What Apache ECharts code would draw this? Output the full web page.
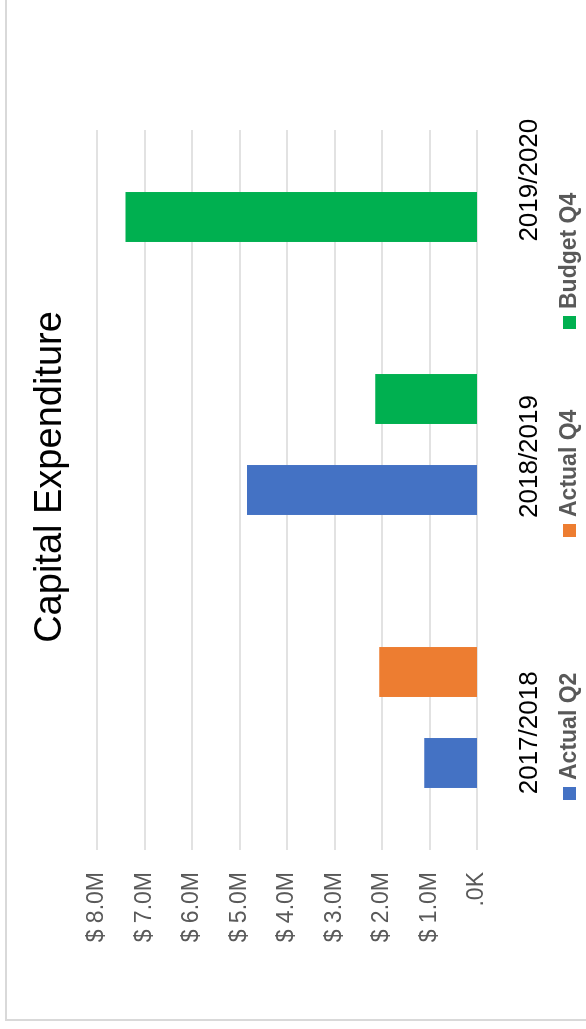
<!DOCTYPE html>
<html>
<head>
<meta charset="utf-8">
<script src="https://cdn.jsdelivr.net/npm/echarts@6/dist/echarts.min.js"></script>
<style>
  html, body { margin: 0; padding: 0; background: #fff; overflow: hidden; }
  #wrap { position: absolute; left: 0; top: 0; width: 586px; height: 1029px; overflow: hidden; }
  /* chart is drawn landscape, then turned a quarter to the left */
  #chart { position: absolute; left: 0; top: 0; width: 1029px; height: 586px;
           transform-origin: 0 0; transform: translate(0, 1029px) rotate(-90deg); }
</style>
</head>
<body>
<div id="wrap"><div id="chart"></div></div>
<script>
const FONT = 'Liberation Sans, Arial, sans-serif';

// data (dollars)
const categories = ['2017/2018', '2018/2019', '2019/2020'];
const seriesNames = ['Actual Q2', 'Actual Q4', 'Budget Q4'];
const actualQ2 = [1110000, 4840000, null];
const actualQ4 = [2060000, null, null];
const budgetQ4 = [null, 2140000, 7400000];
const valueTicks = [0, 1000000, 2000000, 3000000, 4000000, 5000000, 6000000, 7000000, 8000000];

const allValues = [actualQ2, actualQ4, budgetQ4];
const colors = ['#4472C4', '#ED7D31', '#00B050'];
const legendLeft = [229, 492, 700];

const BAR_RATIO = 0.183;   // bar width / band
const STEP_RATIO = 0.3333; // distance between bars in one category / band

// slots per category = most non-empty values any category has
const slotCount = Math.max(...categories.map((c, i) => allValues.filter(s => s[i] != null).length));

function moneyLabel(v) {
    if (v === 0) return '.0K';
    return '$ ' + (v / 1000000).toFixed(1) + 'M';
}

// bars of a category are packed from the left of its band; empty series leave no hole
function barSeries(k) {
    const values = allValues[k];
    return {
        type: 'custom',
        name: seriesNames[k],
        xAxisIndex: 1,
        yAxisIndex: 1,
        itemStyle: { color: colors[k] },
        encode: { x: 0, y: 1 },
        data: values.map((v, i) => [i, v]).filter(d => d[1] != null),
        renderItem(params, api) {
            const i = api.value(0);
            const rank = allValues.filter(s => s[i] != null).indexOf(values);
            const band = api.size([1, 0])[0];
            const base = api.coord([i, 0]);
            const top = api.coord([i, api.value(1)]);
            const w = band * BAR_RATIO;
            const cx = base[0] + (rank - (slotCount - 1) / 2) * band * STEP_RATIO;
            return {
                type: 'rect',
                shape: { x: cx - w / 2, y: top[1], width: w, height: base[1] - top[1] },
                style: { fill: api.visual('color') }
            };
        }
    };
}

const chart = echarts.init(document.getElementById('chart'), null, { renderer: 'canvas' });

const valueAxisBase = { type: 'value', min: valueTicks[0], max: valueTicks[valueTicks.length - 1], interval: valueTicks[1] - valueTicks[0] };

chart.setOption({
    animation: false,
    backgroundColor: '#fff',
    title: {
        text: 'Capital Expenditure',
        left: 547,
        textAlign: 'center',
        top: 27,
        textStyle: { fontFamily: FONT, fontSize: 38, fontWeight: 'normal', color: '#000' }
    },
    graphic: [{
        type: 'rect', x: 9, y: 6, silent: true,
        shape: { width: 1100, height: 700 },
        style: { fill: null, stroke: '#d9d9d9', lineWidth: 2 }
    }],
    legend: seriesNames.map((name, k) => ({
        data: [name],
        left: legendLeft[k],
        top: 558,
        padding: 0,
        itemWidth: 13,
        itemHeight: 13,
        icon: 'rect',
        textStyle: { fontFamily: FONT, fontSize: 23, fontWeight: 'bold', color: '#595959', padding: [0, 0, 0, 2] }
    })),
    grid: [
        { left: 179, top: 97, width: 720, height: 380 },  // gridlines
        { left: 175, top: 97, width: 819, height: 380 },  // bars
        { left: 158, top: 97, width: 829, height: 380 }   // category labels
    ],
    xAxis: [
        { gridIndex: 0, type: 'category', data: categories, axisLine: { show: false }, axisTick: { show: false }, axisLabel: { show: false } },
        { gridIndex: 1, type: 'category', data: categories, show: false },
        { gridIndex: 2, type: 'category', data: categories, axisLine: { show: false }, axisTick: { show: false },
          axisLabel: { margin: 40, fontFamily: FONT, fontSize: 26, color: '#000' } }
    ],
    yAxis: [
        Object.assign({ gridIndex: 0 }, valueAxisBase, {
            axisLine: { show: false }, axisTick: { show: false },
            splitLine: { lineStyle: { color: '#d9d9d9', width: 1.5 } },
            axisLabel: { margin: 22, fontFamily: FONT, fontSize: 23, color: '#595959', formatter: moneyLabel }
        }),
        Object.assign({ gridIndex: 1, show: false }, valueAxisBase),
        Object.assign({ gridIndex: 2, show: false }, valueAxisBase)
    ],
    series: [barSeries(0), barSeries(1), barSeries(2)]
});
</script>
</body>
</html>
